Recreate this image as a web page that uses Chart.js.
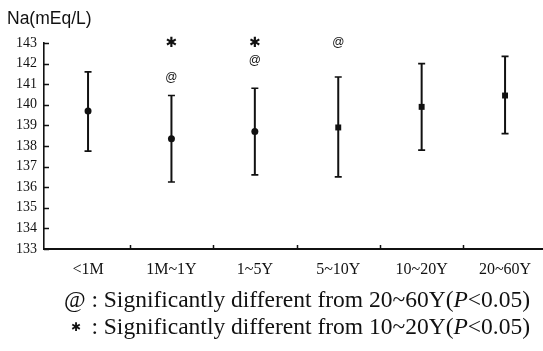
<!DOCTYPE html>
<html>
<head>
<meta charset="utf-8">
<script src="https://cdn.jsdelivr.net/npm/chart.js@4/dist/chart.umd.min.js"></script>
<style>
  html, body { margin: 0; padding: 0; background: #fff; overflow: hidden; }
  #wrap { position: relative; width: 543px; height: 351px; overflow: hidden; }
  #c { position: absolute; left: 0; top: 0; }
  #ytitle { position: absolute; left: 7px; top: 10.2px; font: 17.5px "Liberation Sans", Arial, sans-serif; line-height: 17.5px; color: #111; white-space: nowrap; }
  #notes { position: absolute; left: 64px; top: 286.3px; font: 23.5px "Liberation Serif", "Times New Roman", serif; line-height: 27px; color: #111; white-space: nowrap; }
  .mk { display: inline-block; width: 21.5px; text-align: center; }
  .star { font: bold 12px "DejaVu Sans", sans-serif; padding-left: 7px; width: 14.5px; text-align: left; vertical-align: 3px; }
</style>
</head>
<body>
<div id="wrap">
  <canvas id="c" width="543" height="351" style="width:543px;height:351px"></canvas>
  <div id="ytitle">Na(mEq/L)</div>
  <div id="notes">
    <div><span class="mk">@</span> : Significantly different from 20~60Y(<i>P</i>&lt;0.05)</div>
    <div><span class="mk star">✱</span> : Significantly different from 10~20Y(<i>P</i>&lt;0.05)</div>
  </div>
</div>
<script>
// ---- data ----
const categories = ['<1M', '1M~1Y', '1~5Y', '5~10Y', '10~20Y', '20~60Y'];
const meanValues  = [139.7, 138.35, 138.7, 138.9, 139.9, 140.45];
const upperValues = [141.6, 140.45, 140.8, 141.35, 142.0, 142.35];
const lowerValues = [137.75, 136.25, 136.6, 136.5, 137.8, 138.6];
const yTickValues = [133, 134, 135, 136, 137, 138, 139, 140, 141, 142, 143];
// significance marks: category index and value height
const atMarkCats   = [1, 2, 3];
const atMarkValues = [141.3, 142.15, 143.0];
const starMarkCats   = [1, 2];
const starMarkValues = [143.0, 143.0];

const pointStyles = ['circle', 'circle', 'circle', 'rect', 'rect', 'rect'];
const pointRadii  = [3.5, 3.5, 3.5, 4.2, 4.2, 4.2];

const extrasPlugin = {
  id: 'extras',
  beforeDatasetsDraw(chart) {
    const ctx = chart.ctx;
    const xs = chart.scales.x, ys = chart.scales.y;
    ctx.save();
    ctx.strokeStyle = '#111';
    // error bars
    meanValues.forEach((m, i) => {
      const x = xs.getPixelForValue(i);
      const yt = ys.getPixelForValue(upperValues[i]);
      const yb = ys.getPixelForValue(lowerValues[i]);
      ctx.lineWidth = 2;
      ctx.beginPath(); ctx.moveTo(x, yt); ctx.lineTo(x, yb); ctx.stroke();
      ctx.lineWidth = 1.6;
      ctx.beginPath();
      ctx.moveTo(x - 3.5, yt); ctx.lineTo(x + 3.5, yt);
      ctx.moveTo(x - 3.5, yb); ctx.lineTo(x + 3.5, yb);
      ctx.stroke();
    });
    // inward ticks on y axis
    const area = chart.chartArea;
    ctx.lineWidth = 1.5;
    ctx.beginPath();
    yTickValues.forEach(v => {
      const y = Math.round(ys.getPixelForValue(v)) + 0.5;
      ctx.moveTo(area.left, y); ctx.lineTo(area.left + 5, y);
    });
    // inward ticks on x axis at category boundaries
    for (let i = 0; i < categories.length - 1; i++) {
      const x = Math.round(xs.getPixelForValue(i + 0.5)) + 0.5;
      ctx.moveTo(x, area.bottom); ctx.lineTo(x, area.bottom - 4);
    }
    ctx.stroke();
    // significance marks
    ctx.fillStyle = '#111';
    ctx.textAlign = 'center';
    ctx.textBaseline = 'middle';
    ctx.font = '12px "Liberation Sans", Arial, sans-serif';
    atMarkCats.forEach((c, k) => {
      ctx.fillText('@', xs.getPixelForValue(c), ys.getPixelForValue(atMarkValues[k]));
    });
    ctx.font = 'bold 14px "DejaVu Sans", sans-serif';
    starMarkCats.forEach((c, k) => {
      ctx.fillText('✱', xs.getPixelForValue(c), ys.getPixelForValue(starMarkValues[k]));
    });
    ctx.restore();
  }
};

new Chart(document.getElementById('c'), {
  type: 'scatter',
  data: {
    datasets: [{
      data: meanValues.map((v, i) => ({ x: i, y: v })),
      showLine: false,
      backgroundColor: '#111',
      borderColor: '#111',
      pointStyle: pointStyles,
      pointRadius: pointRadii,
      pointHoverRadius: pointRadii,
      borderWidth: 0
    }]
  },
  options: {
    responsive: false,
    devicePixelRatio: 1,
    animation: false,
    events: [],
    layout: { autoPadding: false, padding: { left: 0, top: 43, right: 0, bottom: 0 } },
    plugins: { legend: { display: false }, tooltip: { enabled: false }, title: { display: false } },
    scales: {
      x: {
        type: 'linear',
        min: -0.528,
        max: 5.455,
        afterBuildTicks(scale) { scale.ticks = categories.map((_, i) => ({ value: i })); },
        afterFit(scale) { scale.height = 102; scale.paddingLeft = 0; scale.paddingRight = 0; },
        ticks: {
          callback: (v) => categories[v],
          color: '#111',
          padding: 11,
          maxRotation: 0,
          autoSkip: false,
          font: { family: '"Liberation Serif", "Times New Roman", serif', size: 16 }
        },
        grid: { display: false, drawTicks: false },
        border: { display: true, color: '#111', width: 2 }
      },
      y: {
        min: 133,
        max: 143,
        afterBuildTicks(scale) { scale.ticks = yTickValues.map(v => ({ value: v })); },
        afterFit(scale) { scale.width = 44; },
        ticks: {
          color: '#111',
          padding: 7,
          font: { family: '"Liberation Serif", "Times New Roman", serif', size: 14 }
        },
        grid: { display: false, drawTicks: false },
        border: { display: true, color: '#111', width: 1.6 }
      }
    }
  },
  plugins: [extrasPlugin]
});
</script>
</body>
</html>
